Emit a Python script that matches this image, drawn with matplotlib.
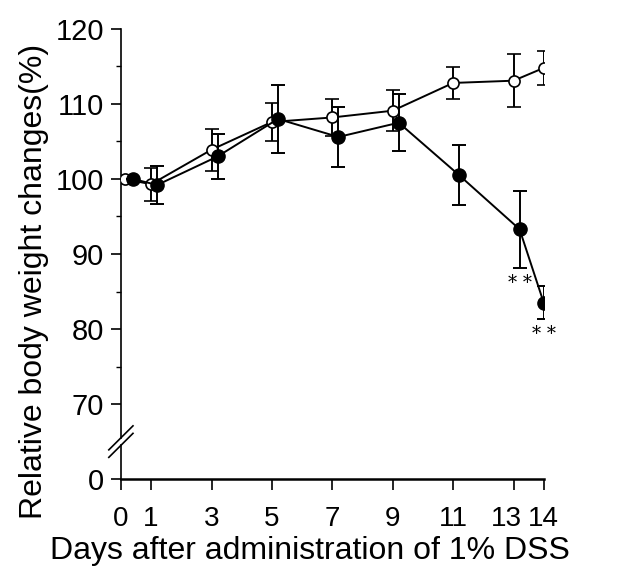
import matplotlib
matplotlib.use('Agg')
import matplotlib.pyplot as plt
import matplotlib.transforms as mtransforms

plt.rcParams['font.family'] = ['Liberation Sans', 'DejaVu Sans']

# days after DSS (filled points are drawn slightly shifted, as in the figure)
days_ctrl = [0.12, 1, 3, 5, 7, 9, 11, 13, 14]
days_dss = [0.4, 1.2, 3.2, 5.2, 7.2, 9.2, 11.2, 13.2, 14]

ctrl = [100.0, 99.3, 103.9, 107.6, 108.2, 109.1, 112.8, 113.1, 114.8]
ctrl_err = [0, 2.2, 2.8, 2.5, 2.5, 2.7, 2.1, 3.5, 2.3]

dss = [100.0, 99.2, 103.0, 108.0, 105.6, 107.5, 100.5, 93.3, 83.5]
dss_err = [0, 2.5, 3.0, 4.5, 4.0, 3.8, 4.0, 5.1, 2.2]

xticks = [0, 1, 3, 5, 7, 9, 11, 13, 14]
yticks = [60, 70, 80, 90, 100, 110, 120]
ytick_labels = ['0', '70', '80', '90', '100', '110', '120']

fig = plt.figure(figsize=(6.2, 5.67), dpi=100)
ax = fig.add_axes([0.195, 0.155, 0.682, 0.794])

ax.errorbar(days_ctrl, ctrl, yerr=ctrl_err, fmt='-o', color='black',
            mfc='white', mec='black', ms=8, mew=1.2, lw=1.4,
            capsize=5, elinewidth=1.4, capthick=1.4, zorder=3)
ax.errorbar(days_dss, dss, yerr=dss_err, fmt='-o', color='black',
            mfc='black', mec='black', ms=9.5, lw=1.4,
            capsize=5, elinewidth=1.4, capthick=1.4, zorder=4)

# significance marks
ax.text(13.2, 86.2, '* *', ha='center', va='center', fontsize=13, family='DejaVu Serif')
ax.text(14.0, 79.3, '* *', ha='center', va='center', fontsize=13, family='DejaVu Serif')

ax.set_xlim(0, 14)
ax.set_ylim(60, 120)
ax.set_xticks(xticks)
ax.set_yticks(yticks)
ax.set_yticklabels(ytick_labels)
ax.set_yticks([75, 85, 95, 105, 115], minor=True)

ax.spines['top'].set_visible(False)
ax.spines['right'].set_visible(False)
ax.spines['left'].set_bounds(65.5, 120)
ax.spines['left'].set_linewidth(1.2)
ax.spines['bottom'].set_linewidth(1.8)
ax.plot([0, 0], [60, 64.5], color='black', lw=1.2, clip_on=False, zorder=5)

# axis break marks
ax.plot([-0.4, 0.4], [63.9, 67.1], color='black', lw=1.2, clip_on=False, zorder=5)
ax.plot([-0.4, 0.4], [62.9, 66.1], color='black', lw=1.2, clip_on=False, zorder=5)

ax.tick_params(axis='y', which='major', labelsize=21, length=7, width=1.2,
               direction='out', pad=5)
ax.tick_params(axis='y', which='minor', length=3.5, width=1.0)
ax.tick_params(axis='x', which='major', labelsize=20, length=8, width=1.2, pad=11)

# nudge "13" left so it does not run into "14"
lbl13 = ax.get_xticklabels()[7]
lbl13.set_transform(lbl13.get_transform() +
                    mtransforms.ScaledTranslation(-7 / 100, 0, fig.dpi_scale_trans))

ax.set_xlabel('Days after administration of 1% DSS', fontsize=23)
ax.set_ylabel('Relative body weight changes(%)', fontsize=23)
ax.xaxis.set_label_coords(0.447, -0.127)
ax.yaxis.set_label_coords(-0.17, 0.44)

fig.savefig('out.png', dpi=100)
